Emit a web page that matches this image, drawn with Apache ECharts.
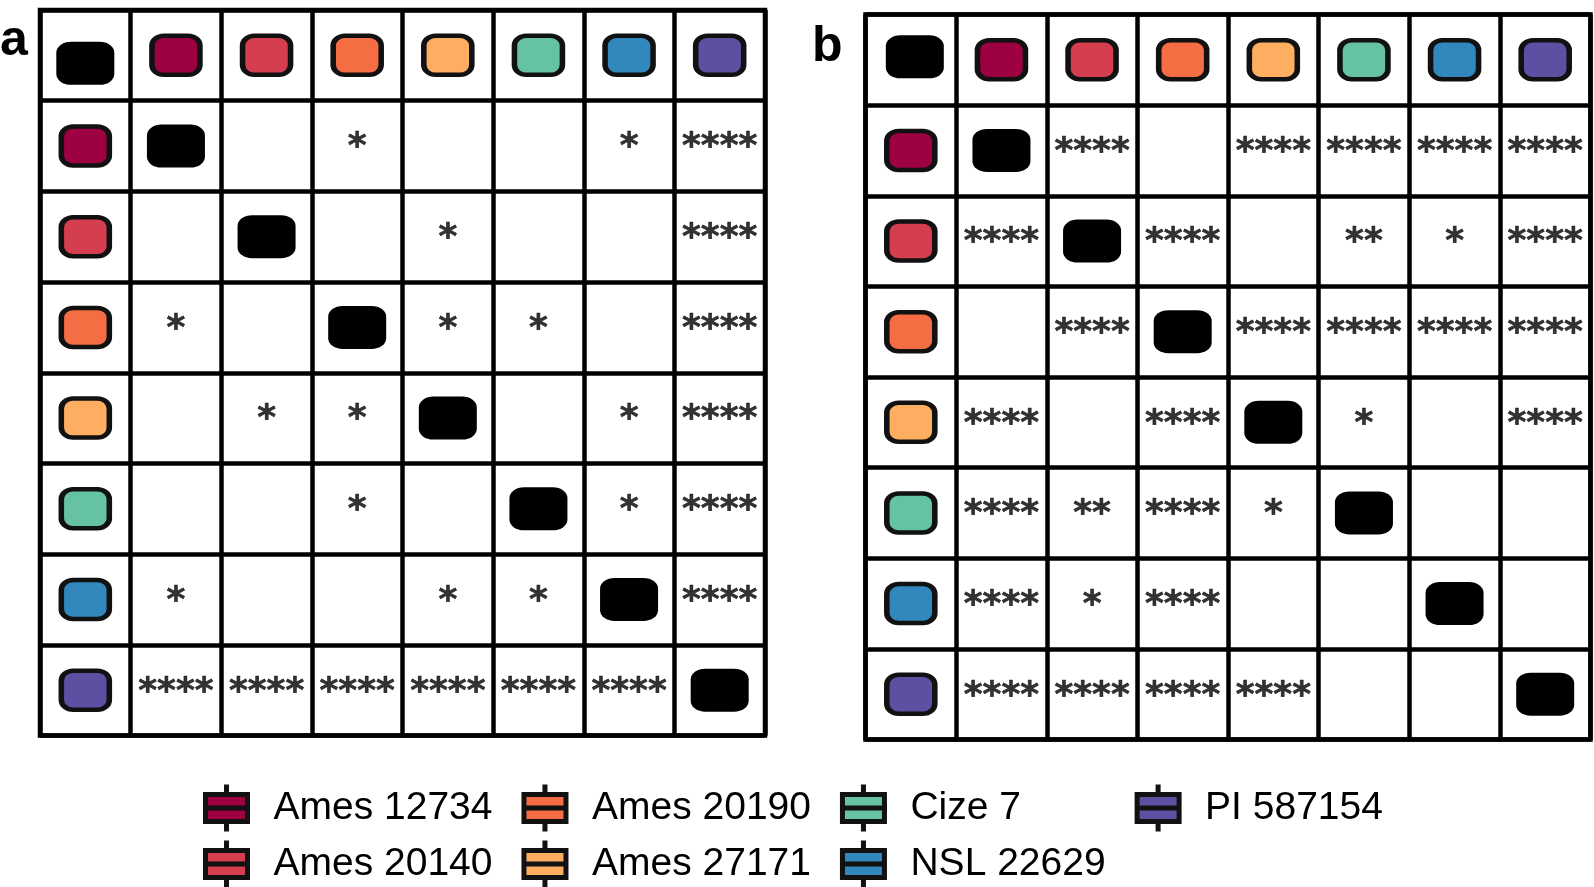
<!DOCTYPE html>
<html>
<head>
<meta charset="utf-8">
<script src="https://cdn.jsdelivr.net/npm/echarts@6/dist/echarts.min.js"></script>
<style>
html,body{margin:0;padding:0;background:#fff;}
#chart{width:1594px;height:887px;}
</style>
</head>
<body>
<div id="chart"></div>
<script>
// ---- data ----
var categories = ['Ames 12734', 'Ames 20140', 'Ames 20190', 'Ames 27171', 'Cize 7', 'NSL 22629', 'PI 587154'];
var colors = ['#9e0142', '#d53e4f', '#f46d43', '#fdae61', '#66c2a5', '#3288bd', '#5e4fa2'];
var panelLabels = ['a', 'b'];
// significance tables (row = variety, column = variety)
var sigA = [
  ['', '', '*', '', '', '*', '****'],
  ['', '', '', '*', '', '', '****'],
  ['*', '', '', '*', '*', '', '****'],
  ['', '*', '*', '', '', '*', '****'],
  ['', '', '*', '', '', '*', '****'],
  ['*', '', '', '*', '*', '', '****'],
  ['****', '****', '****', '****', '****', '****', '']
];
var sigB = [
  ['', '****', '', '****', '****', '****', '****'],
  ['****', '', '****', '', '**', '*', '****'],
  ['', '****', '', '****', '****', '****', '****'],
  ['****', '', '****', '', '*', '', '****'],
  ['****', '**', '****', '*', '', '', ''],
  ['****', '*', '****', '', '', '', ''],
  ['****', '****', '****', '****', '', '', '']
];

// ---- build ----
var axisCats = [''].concat(categories);
var FONT = 'Liberation Sans';
var STAR_FONT = 'DejaVu Sans';
var grids = [
  {left: 40, top: 10, width: 725, height: 725.5, show: true, borderColor: '#000', borderWidth: 4.5},
  {left: 865.5, top: 14.5, width: 725, height: 725, show: true, borderColor: '#000', borderWidth: 4.5}
];
var cornerOffsets = [[0, 8], [4, -3]];
var xAxes = [], yAxes = [], series = [];
[sigA, sigB].forEach(function (sig, g) {
  xAxes.push({
    type: 'category', gridIndex: g, data: axisCats, position: 'top',
    axisLine: {show: false}, axisTick: {show: false}, axisLabel: {show: false},
    splitLine: {show: true, lineStyle: {color: '#000', width: 4.5}}
  });
  yAxes.push({
    type: 'category', gridIndex: g, data: axisCats, inverse: true,
    axisLine: {show: false}, axisTick: {show: false}, axisLabel: {show: false},
    splitLine: {show: true, lineStyle: {color: '#000', width: 4.5}}
  });
  // diagonal black blocks
  var diag = [];
  for (var k = 0; k <= categories.length; k++) {
    if (k === 0) diag.push({value: [0, 0], symbolOffset: cornerOffsets[g]});
    else diag.push([k, k]);
  }
  series.push({
    type: 'scatter', xAxisIndex: g, yAxisIndex: g, data: diag,
    symbol: 'roundRect', symbolSize: [58, 43], silent: true,
    itemStyle: {color: '#000', opacity: 1}, z: 3
  });
  // colored header blocks
  categories.forEach(function (name, i) {
    series.push({
      type: 'scatter', name: name, xAxisIndex: g, yAxisIndex: g,
      data: [[i + 1, 0], [0, i + 1]],
      symbol: 'roundRect', symbolSize: [48, 39], silent: true,
      itemStyle: {color: colors[i], borderColor: '#111', borderWidth: 5, opacity: 1}, z: 3
    });
  });
  // significance stars
  var stars = [];
  sig.forEach(function (row, r) {
    row.forEach(function (txt, c) {
      if (txt) stars.push([c + 1, r + 1, txt]);
    });
  });
  series.push({
    type: 'scatter', xAxisIndex: g, yAxisIndex: g, data: stars,
    symbol: 'circle', symbolSize: 1, silent: true,
    itemStyle: {color: 'rgba(0,0,0,0)'}, z: 4,
    label: {
      show: true, position: 'inside', offset: [0, 2],
      formatter: function (p) { return p.data[2]; },
      color: '#000', fontFamily: STAR_FONT, fontWeight: 'bold', fontSize: 36,
      textBorderColor: '#000', textBorderWidth: 0.6
    }
  });
});

var option = {
  backgroundColor: '#fff',
  animation: false,
  title: [
    {text: panelLabels[0], left: 0, top: 16, padding: 0,
     textStyle: {fontFamily: FONT, fontWeight: 'bold', fontSize: 50, color: '#000'}},
    {text: panelLabels[1], left: 812, top: 22, padding: 0,
     textStyle: {fontFamily: FONT, fontWeight: 'bold', fontSize: 50, color: '#000'}}
  ],
  legend: {
    data: categories,
    orient: 'vertical',
    left: 203, top: 782, height: 108,
    padding: 0, itemGap: 4,
    itemWidth: 42, itemHeight: 47,
    icon: 'path://M0,10L42,10L42,37L0,37Z M0,23.5L42,23.5 M21,0L21,10 M21,37L21,47',
    itemStyle: {borderColor: '#111', borderWidth: 5},
    textStyle: {fontFamily: FONT, fontSize: 39, color: '#000', lineHeight: 42, padding: [0, 25, 0, 21]},
    selectedMode: false
  },
  grid: grids,
  xAxis: xAxes,
  yAxis: yAxes,
  series: series
};
var chart = echarts.init(document.getElementById('chart'), null, {renderer: 'canvas'});
chart.setOption(option);
</script>
</body>
</html>
